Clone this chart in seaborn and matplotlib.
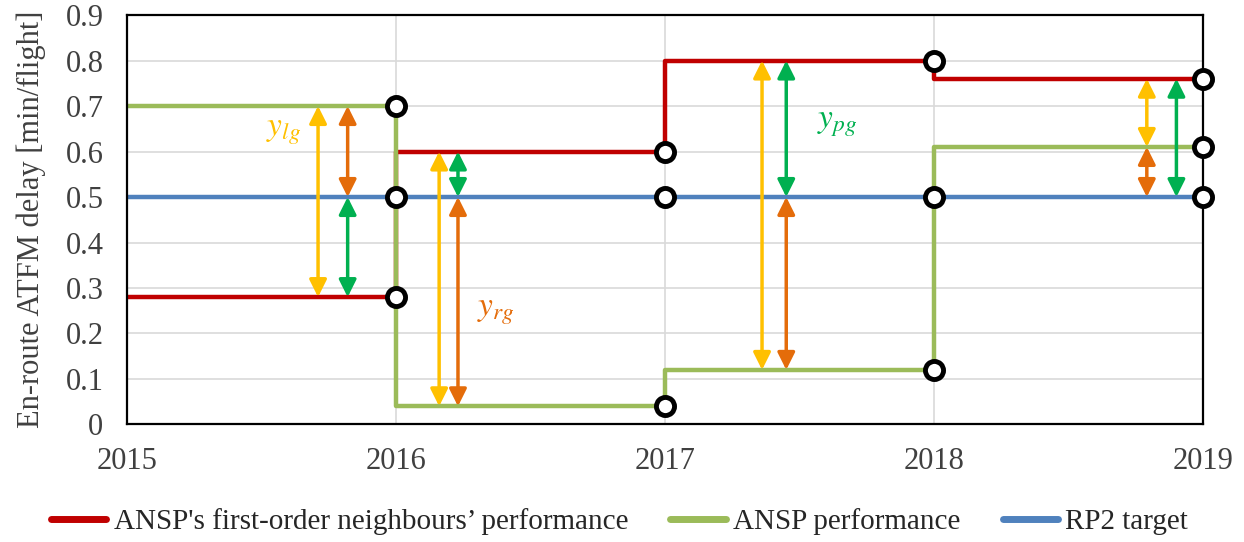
import numpy as np
import pandas as pd
import seaborn as sns
from matplotlib import pyplot as plt

# date
ani = [2015, 2016, 2017, 2018, 2019]
vecini = [0.28, 0.60, 0.80, 0.76]
ansp = [0.70, 0.04, 0.12, 0.61]
tinta = [0.50, 0.50, 0.50, 0.50]
serii = ["ANSP's first-order neighbours\u2019 performance", "ANSP performance", "RP2 target"]
culori = ["#C00000", "#9BBB59", "#4F81BD"]

# sageti: x, y jos, y sus, culoare
sageti_x = [2015.71, 2015.82, 2015.82, 2016.16, 2016.23, 2016.23,
            2017.36, 2017.45, 2017.45, 2018.79, 2018.79, 2018.90]
sageti_y0 = [0.28, 0.50, 0.28, 0.04, 0.50, 0.04, 0.12, 0.50, 0.12, 0.61, 0.50, 0.50]
sageti_y1 = [0.70, 0.70, 0.50, 0.60, 0.60, 0.50, 0.80, 0.80, 0.50, 0.76, 0.61, 0.76]
sageti_c = ["#FFC000", "#E46C0A", "#00B050", "#FFC000", "#00B050", "#E46C0A",
            "#FFC000", "#00B050", "#E46C0A", "#FFC000", "#E46C0A", "#00B050"]

etichete = [r"$y_{lg}$", r"$y_{rg}$", r"$y_{pg}$"]
etichete_x = [2015.58, 2016.37, 2017.64]
etichete_y = [0.643, 0.247, 0.66]
etichete_c = ["#FFC000", "#E46C0A", "#00B050"]

sns.set_theme(style="white")
plt.rcParams["font.family"] = ["Liberation Serif", "DejaVu Serif"]
plt.rcParams["mathtext.fontset"] = "stix"

t = pd.DataFrame({
    "an": ani * 3,
    "val": vecini + vecini[-1:] + ansp + ansp[-1:] + tinta + tinta[-1:],
    "serie": [s for s in serii for _ in ani],
})
p = pd.DataFrame({
    "an": ani[1:] * 3,
    "val": vecini + ansp + tinta,
})

fig = plt.figure(figsize=(12.44, 5.42), dpi=100)
ax = fig.add_axes([0.1021, 0.2168, 0.8652, 0.7555])

sns.lineplot(data=t, x="an", y="val", hue="serie", palette=culori, hue_order=serii,
             drawstyle="steps-post", estimator=None, sort=False, lw=3.2, ax=ax,
             legend=False)

for x, y0, y1, c in zip(sageti_x, sageti_y0, sageti_y1, sageti_c):
    ax.annotate("", xy=(x, y1), xytext=(x, y0),
                arrowprops=dict(arrowstyle="<|-|>", color=c, lw=2.5,
                                mutation_scale=26, shrinkA=0, shrinkB=0))

sns.scatterplot(data=p, x="an", y="val", marker="o", s=170, color="white",
                edgecolor="black", linewidth=3.5, zorder=5, ax=ax, clip_on=False)

for s, x, y, c in zip(etichete, etichete_x, etichete_y, etichete_c):
    ax.text(x, y, s, color=c, fontsize=24, ha="center", va="center")

ax.set_xlim(2015, 2019)
ax.set_ylim(0, 0.9)
ax.set_xticks(ani)
ax.set_yticks(np.arange(0, 0.91, 0.1))
ax.set_yticklabels(["0"] + ["%.1f" % v for v in np.arange(0.1, 0.91, 0.1)])
ax.tick_params(axis="x", labelsize=22, pad=16, colors="#404040", length=0)
ax.tick_params(axis="y", labelsize=22, pad=17, colors="#404040", length=0)
ax.set_xlabel("")
ax.set_ylabel("En-route ATFM delay [min/flight]", fontsize=22, color="#404040",
              labelpad=14)
ax.grid(True, color="#D9D9D9", lw=1.2)
for sp in ax.spines.values():
    sp.set_color("black")
    sp.set_linewidth(1.6)

handles = [plt.Line2D([], [], color=c, lw=5) for c in culori]
fig.legend(handles, serii, loc="lower center", bbox_to_anchor=(0.498, -0.035), ncol=3,
           frameon=False, fontsize=21, handlelength=1.9, columnspacing=1.45,
           handletextpad=0.25, labelcolor="#262626")

fig.savefig("out.png", dpi=100)
